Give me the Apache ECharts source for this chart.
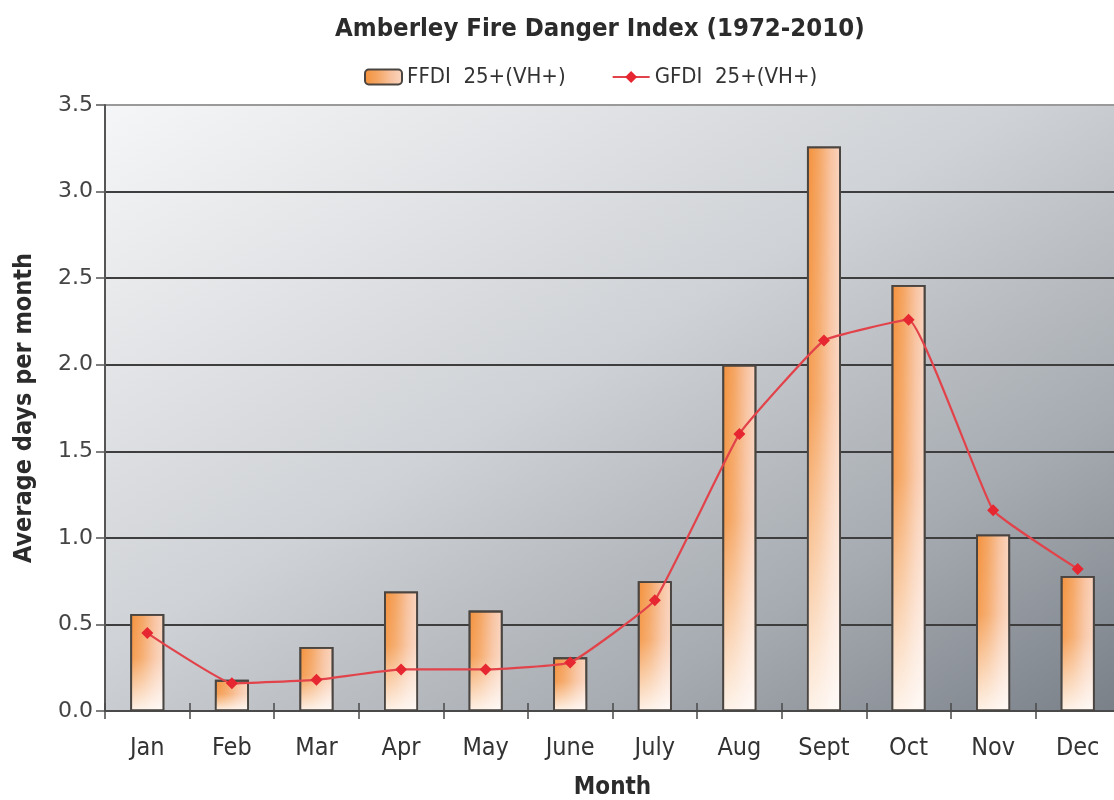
<!DOCTYPE html>
<html>
<head>
<meta charset="utf-8">
<style>
  html, body { margin: 0; padding: 0; background: #ffffff; }
  #chart { width: 1114px; height: 800px; }
</style>
<script src="https://cdn.jsdelivr.net/npm/echarts@6/dist/echarts.min.js"></script>
</head>
<body>
<div id="chart"></div>
<script>
// Monthly averages of very-high-or-worse fire danger days at Amberley, 1972-2010
const months = ['Jan', 'Feb', 'Mar', 'Apr', 'May', 'June', 'July', 'Aug', 'Sept', 'Oct', 'Nov', 'Dec'];
const ffdiDays = [0.56, 0.18, 0.37, 0.69, 0.58, 0.31, 0.75, 2.00, 3.26, 2.46, 1.02, 0.78];
const gfdiDays = [0.45, 0.16, 0.18, 0.24, 0.24, 0.28, 0.64, 1.60, 2.14, 2.26, 1.16, 0.82];
const yTicks = ['0.0', '0.5', '1.0', '1.5', '2.0', '2.5', '3.0', '3.5'];

const condensed = '"Liberation Sans Narrow", "DejaVu Sans Condensed", sans-serif';

// bar body: orange on the left fading to pale peach on the right
const barFill = new echarts.graphic.LinearGradient(0, 0, 1, 0, [
  { offset: 0, color: '#f4903a' },
  { offset: 0.35, color: '#f5a664' },
  { offset: 0.7, color: '#f8c3a0' },
  { offset: 1, color: '#fad6c2' }
]);
// white wash that brightens each bar toward its base
const barWash = new echarts.graphic.LinearGradient(0, 0, 0, 1, [
  { offset: 0, color: 'rgba(255,255,255,0)' },
  { offset: 0.45, color: 'rgba(255,255,255,0.1)' },
  { offset: 1, color: 'rgba(255,255,255,0.88)' }
]);

// plot background: light top-left, dark bottom-right
const plotFill = new echarts.graphic.LinearGradient(0, 0, 0.526, 1.474, [
  { offset: 0, color: '#f5f6f7' },
  { offset: 0.45, color: '#cfd2d6' },
  { offset: 0.75, color: '#a6abb1' },
  { offset: 1, color: '#7a8088' }
]);

const chart = echarts.init(document.getElementById('chart'), null, { renderer: 'canvas' });

chart.setOption({
  animation: false,
  backgroundColor: '#ffffff',
  title: {
    text: 'Amberley Fire Danger Index (1972-2010)',
    left: 330,
    top: 11,
    textStyle: { fontFamily: condensed, fontSize: 25.5, fontWeight: 'bold', color: '#2b2b2b' }
  },
  legend: {
    left: 359,
    top: 61,
    itemWidth: 37,
    itemHeight: 15,
    itemGap: 46,
    textStyle: { fontFamily: condensed, fontSize: 22, color: '#333333' },
    data: ['FFDI  25+(VH+)', 'GFDI  25+(VH+)']
  },
  grid: {
    left: 105,
    top: 105,
    width: 1015,
    height: 606,
    outerBoundsMode: 'none',
    containLabel: false,
    show: true,
    backgroundColor: plotFill,
    borderWidth: 0
  },
  xAxis: [{
    type: 'category',
    data: months,
    name: 'Month',
    nameLocation: 'middle',
    nameGap: 65,
    nameTextStyle: { fontFamily: condensed, fontSize: 24, fontWeight: 'bold', color: '#2b2b2b' },
    axisLine: { lineStyle: { color: '#4a4a4a', width: 2 } },
    axisTick: { show: true, length: 8, lineStyle: { color: '#4a4a4a', width: 1.5 } },
    axisLabel: { fontFamily: condensed, fontSize: 25, color: '#333333', margin: 25 },
    splitLine: { show: false }
  }, {
    // second copy of the month axis, only for the upper half of the crossing ticks
    type: 'category',
    data: months,
    position: 'bottom',
    axisLine: { show: false },
    axisTick: { show: true, inside: true, length: 8, lineStyle: { color: '#4a4a4a', width: 1.5 } },
    axisLabel: { show: false },
    splitLine: { show: false },
    z: 5
  }],
  yAxis: {
    type: 'value',
    min: 0,
    max: 3.5,
    interval: 0.5,
    name: 'Average days per month',
    nameLocation: 'middle',
    nameGap: 68,
    nameTextStyle: { fontFamily: condensed, fontSize: 25, fontWeight: 'bold', color: '#2b2b2b' },
    axisLine: { show: true, lineStyle: { color: '#555555', width: 2 } },
    axisTick: { show: true, length: 9, lineStyle: { color: '#555555', width: 1.5 } },
    axisLabel: {
      fontFamily: '"DejaVu Sans", sans-serif',
      fontSize: 22,
      color: '#444444',
      margin: 12,
      formatter: (v, i) => yTicks[i]
    },
    splitLine: {
      show: true,
      lineStyle: {
        color: ['#3e3e3e', '#3e3e3e', '#3e3e3e', '#3e3e3e', '#3e3e3e', '#3e3e3e', '#3e3e3e', '#9a9a9a'],
        width: 2
      }
    }
  },
  series: [{
    name: 'FFDI  25+(VH+)',
    type: 'bar',
    data: ffdiDays,
    barWidth: 34,
    itemStyle: { color: barFill, borderColor: '#4a4541', borderWidth: 1.8 },
    z: 2
  }, {
    name: 'FFDI wash',
    type: 'bar',
    data: ffdiDays,
    barWidth: 34,
    barGap: '-100%',
    silent: true,
    itemStyle: { color: barWash, borderColor: '#4a4541', borderWidth: 1.8 },
    z: 2
  }, {
    name: 'GFDI  25+(VH+)',
    type: 'line',
    data: gfdiDays,
    smooth: 0.1,
    symbol: 'diamond',
    symbolSize: 12,
    lineStyle: { color: '#e2434a', width: 2.2 },
    itemStyle: { color: '#e62630' },
    z: 3
  }]
});
</script>
</body>
</html>
